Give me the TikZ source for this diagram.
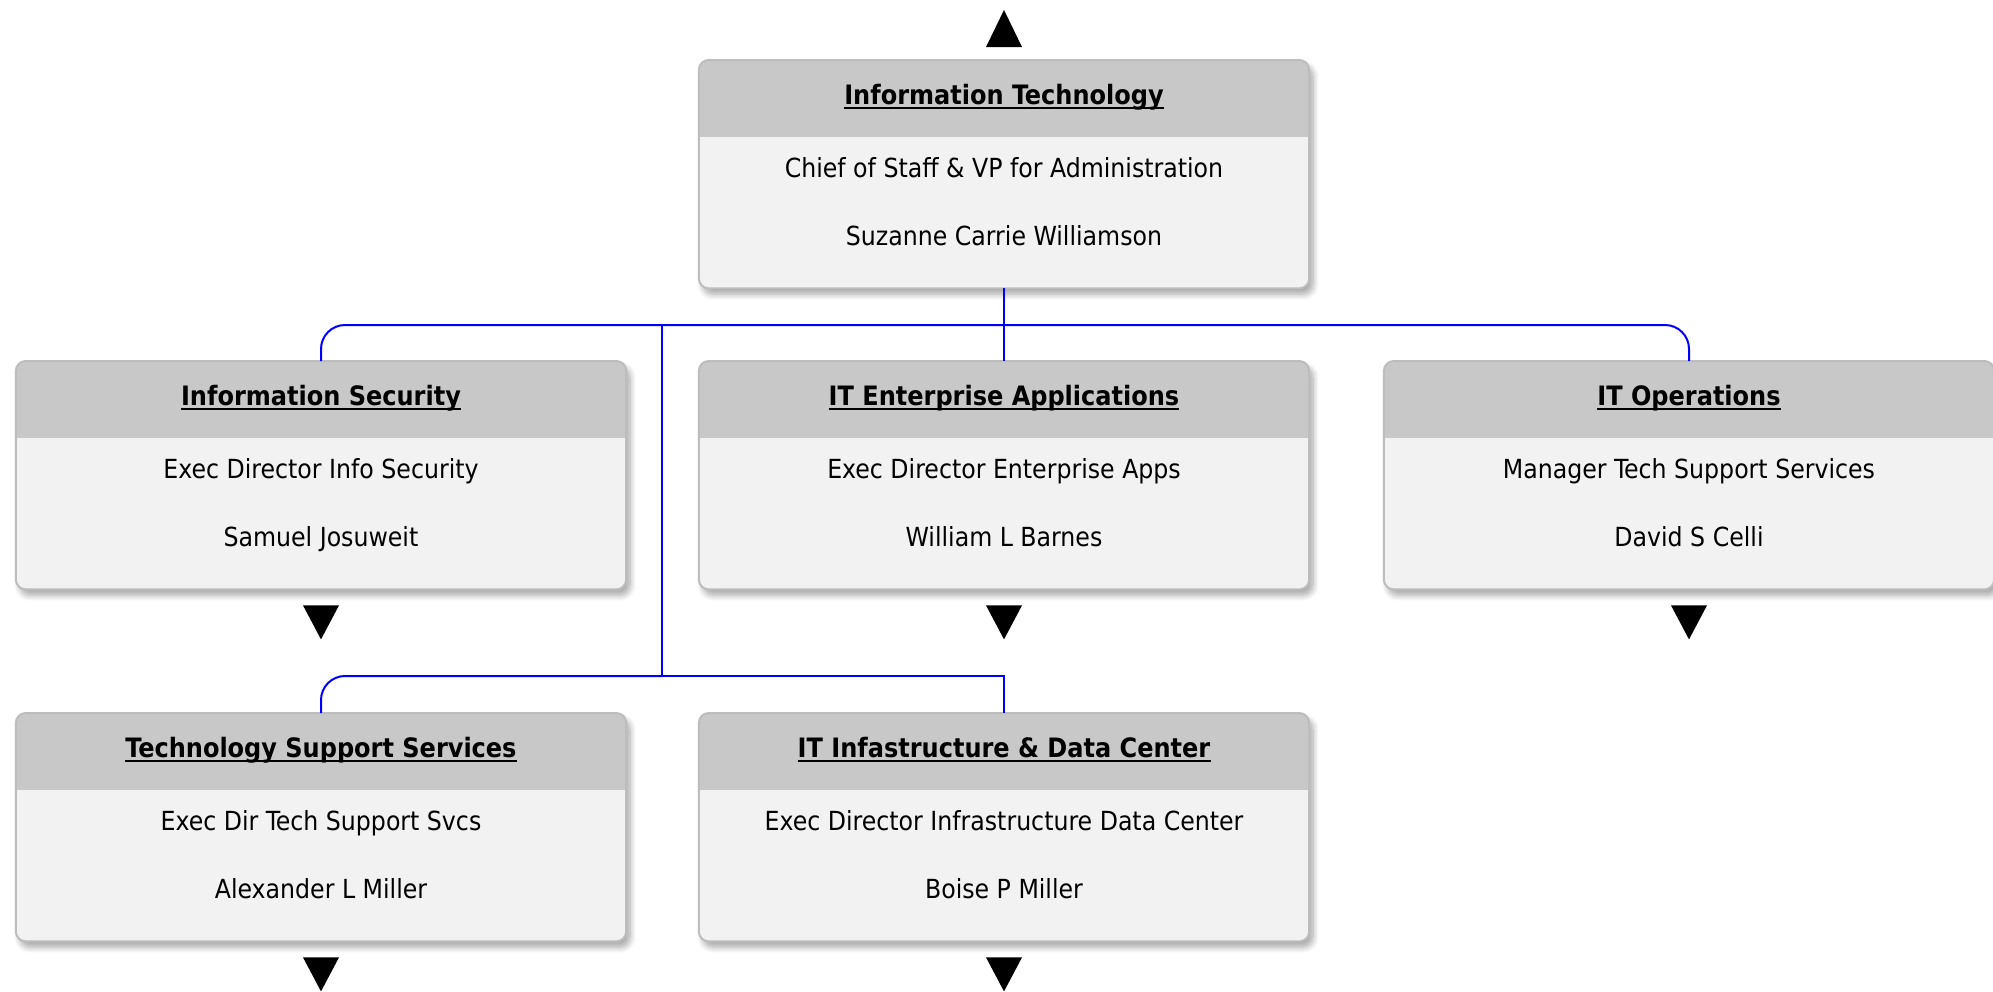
\documentclass[tikz,border=0pt]{standalone}
\usepackage{fontspec}
\setmainfont{DejaVu Sans Condensed}
\usetikzlibrary{shadows.blur}
\definecolor{hdr}{HTML}{C8C8C8}
\definecolor{bodyc}{HTML}{F2F2F2}
\definecolor{edgec}{HTML}{BDBDBD}
\definecolor{busblue}{HTML}{0000FF}
\tikzset{
  orgbox/.style={rectangle, rounded corners=10pt, fill=bodyc, minimum width=610pt, minimum height=228pt, inner sep=0pt,
    blur shadow={shadow xshift=4pt, shadow yshift=-6pt, shadow opacity=35, shadow blur steps=8, shadow blur radius=6pt}},
  orgedge/.style={draw=edgec, line width=2pt, rounded corners=10pt},
  ttl/.style={font=\fontsize{26.7}{30}\selectfont\bfseries, inner sep=0pt, anchor=base},
  txt/.style={font=\fontsize{26.3}{30}\selectfont, inner sep=0pt, anchor=base},
  conn/.style={draw=busblue, line width=2pt},
  tri/.style={fill=black}
}
\newcommand\orgunit[6]{%
  \node[orgbox, anchor=north] (#1) at (#2,#3) {};
  \begin{scope}
    \clip[rounded corners=10pt] (#1.north west) rectangle (#1.south east);
    \fill[hdr] (#1.north west) rectangle ([yshift=-77pt]#1.north east);
  \end{scope}
  \draw[orgedge] (#1.north west) rectangle (#1.south east);
  \node[ttl] (#1-t) at ([yshift=-44pt]#1.north) {#4};
  \draw[line width=1.6pt] ([yshift=-4pt]#1-t.base west) -- ([yshift=-4pt]#1-t.base east);
  \node[txt] (#1-a) at ([yshift=-117pt]#1.north) {#5};
  \node[txt] (#1-b) at ([yshift=-185pt]#1.north) {#6};
}
\newcommand\downtri[1]{%
  \fill[tri] ([xshift=-18pt,yshift=-16pt]#1.south) -- ([xshift=18pt,yshift=-16pt]#1.south) -- ([yshift=-50pt]#1.south) -- cycle;
}
\begin{document}
\begin{tikzpicture}[x=1pt,y=-1pt]
\useasboundingbox (0,0) rectangle (1993,991);
\orgunit{top}{1004}{60}{Information Technology}{Chief of Staff \& VP for Administration}{Suzanne Carrie Williamson}
\orgunit{sec}{321}{361}{Information Security}{Exec Director Info Security}{Samuel Josuweit}
\orgunit{apps}{1004}{361}{IT Enterprise Applications}{Exec Director Enterprise Apps}{William L Barnes}
\orgunit{ops}{1689}{361}{IT Operations}{Manager Tech Support Services}{David S Celli}
\orgunit{tss}{321}{713}{Technology Support Services}{Exec Dir Tech Support Svcs}{Alexander L Miller}
\orgunit{infra}{1004}{713}{IT Infastructure \& Data Center}{Exec Director Infrastructure Data Center}{Boise P Miller}
% top triangle
\fill[tri] ([xshift=-18pt,yshift=13pt]top.north) -- ([xshift=18pt,yshift=13pt]top.north) -- ([yshift=50pt]top.north) -- cycle;
\downtri{sec}
\downtri{apps}
\downtri{ops}
\downtri{tss}
\downtri{infra}
% connectors
\coordinate (split) at (662,325);
\coordinate (bus2) at (662,676);
\draw[conn, rounded corners=24pt] (sec.north) |- (split) -| (ops.north);
\draw[conn] (top.south) -- (apps.north);
\draw[conn] (split) -- (bus2);
\draw[conn, rounded corners=24pt] (tss.north) |- (bus2);
\draw[conn] (bus2) -| (infra.north);
\end{tikzpicture}
\end{document}
